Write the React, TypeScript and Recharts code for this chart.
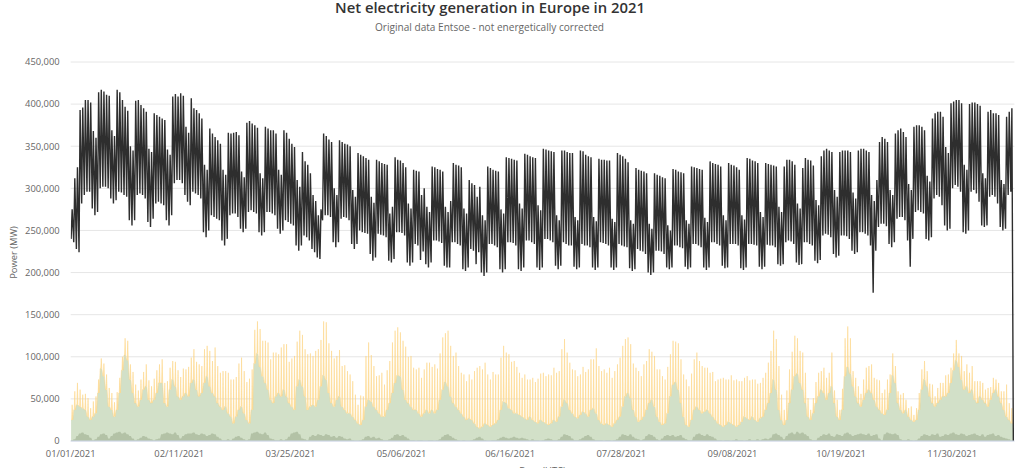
import React from 'react';
import { ComposedChart, Area, Line, XAxis, YAxis, CartesianGrid } from 'recharts';

// Daily total load in GW, Jan 1 (Fri) to Dec 22 2021, rows are Mon..Sun weeks.
// Peak = daytime maximum, low = early-morning minimum.
const loadPeakGW = [
  275, 312, 325,
  393, 396, 405, 405, 402, 368, 360,
  414, 417, 415, 411, 410, 369, 362,
  417, 414, 405, 397, 392, 350, 345,
  404, 405, 399, 395, 391, 347, 343,
  389, 387, 385, 383, 381, 346, 340,
  409, 412, 409, 413, 410, 373, 366,
  407, 395, 393, 389, 383, 328, 322,
  371, 365, 361, 357, 353, 322, 316,
  366, 365, 366, 367, 363, 320, 313,
  378, 380, 377, 375, 372, 318, 312,
  373, 371, 369, 369, 365, 322, 316,
  369, 366, 359, 353, 349, 310, 302,
  343, 332, 328, 318, 292, 285, 268,
  275, 365, 362, 358, 355, 300, 292,
  357, 355, 353, 352, 350, 298, 290,
  342, 340, 338, 336, 334, 290, 283,
  334, 332, 330, 329, 328, 270, 278,
  337, 334, 333, 330, 325, 282, 276,
  322, 321, 320, 292, 300, 278, 272,
  326, 325, 323, 322, 320, 278, 272,
  285, 330, 328, 327, 325, 276, 270,
  310, 306, 304, 290, 302, 268, 262,
  326, 324, 322, 321, 320, 275, 270,
  337, 336, 335, 334, 333, 282, 276,
  341, 340, 338, 337, 336, 280, 274,
  347, 346, 345, 344, 343, 268, 262,
  345, 345, 343, 342, 342, 266, 262,
  345, 344, 340, 338, 337, 266, 261,
  335, 334, 334, 333, 333, 264, 260,
  342, 340, 338, 335, 331, 262, 258,
  324, 322, 321, 320, 318, 258, 252,
  318, 316, 315, 313, 312, 256, 250,
  323, 322, 320, 319, 318, 262, 258,
  326, 325, 324, 323, 322, 265, 260,
  332, 330, 329, 328, 326, 268, 262,
  330, 328, 327, 325, 322, 268, 263,
  336, 335, 333, 332, 330, 272, 266,
  330, 329, 328, 327, 326, 278, 272,
  326, 334, 334, 332, 328, 282, 276,
  324, 336, 334, 333, 327, 286, 280,
  338, 345, 347, 345, 343, 298, 290,
  343, 345, 345, 345, 343, 295, 288,
  345, 347, 347, 345, 343, 292, 285,
  310, 355, 361, 359, 355, 298, 292,
  365, 369, 371, 367, 361, 305, 298,
  373, 375, 375, 373, 369, 315, 308,
  383, 389, 391, 391, 385, 349, 342,
  401, 403, 405, 405, 401, 328, 322,
  400, 402, 402, 400, 398, 318, 312,
  391, 393, 389, 389, 387, 310, 305,
  385, 391, 395,
];

const loadLowGW = [
  240, 236, 228,
  224, 282, 292, 296, 296, 276, 268,
  272, 300, 302, 302, 300, 288, 282,
  286, 296, 295, 292, 290, 262, 256,
  262, 292, 294, 292, 288, 260, 254,
  264, 282, 284, 282, 280, 262, 256,
  268, 306, 310, 310, 306, 292, 284,
  280, 296, 294, 292, 288, 248, 242,
  250, 268, 266, 264, 262, 238, 232,
  240, 268, 270, 270, 266, 252, 248,
  252, 272, 274, 272, 270, 248, 244,
  248, 272, 272, 270, 268, 252, 246,
  250, 262, 260, 258, 256, 232, 226,
  232, 244, 242, 238, 228, 224, 218,
  216, 262, 268, 268, 266, 236, 230,
  236, 264, 266, 265, 262, 234, 228,
  234, 250, 248, 247, 246, 222, 214,
  218, 246, 245, 244, 242, 214, 212,
  216, 248, 248, 247, 244, 212, 208,
  212, 234, 232, 215, 225, 210, 206,
  212, 238, 238, 237, 235, 208, 206,
  206, 236, 236, 234, 232, 204, 202,
  206, 228, 226, 210, 224, 200, 196,
  200, 234, 234, 232, 230, 204, 200,
  204, 236, 236, 235, 232, 204, 202,
  206, 238, 238, 236, 234, 206, 203,
  206, 240, 240, 238, 236, 208, 204,
  208, 236, 234, 232, 232, 207, 204,
  206, 234, 232, 232, 230, 206, 203,
  206, 236, 235, 234, 232, 206, 203,
  206, 234, 232, 231, 230, 205, 202,
  204, 228, 226, 225, 222, 200, 197,
  200, 226, 226, 225, 222, 206, 204,
  206, 232, 232, 230, 229, 207, 204,
  206, 234, 234, 232, 230, 206, 203,
  206, 236, 236, 234, 232, 208, 205,
  206, 234, 234, 234, 232, 205, 203,
  206, 234, 234, 233, 232, 207, 204,
  207, 233, 232, 232, 230, 210, 208,
  210, 236, 238, 237, 234, 212, 209,
  210, 236, 236, 234, 232, 214, 211,
  215, 244, 246, 245, 242, 222, 218,
  220, 244, 244, 243, 240, 226, 222,
  224, 248, 248, 246, 244, 232, 176,
  226, 254, 258, 258, 255, 234, 230,
  236, 264, 266, 266, 262, 238, 207,
  240, 272, 274, 272, 270, 240, 238,
  242, 288, 292, 290, 280, 256, 250,
  252, 300, 304, 302, 296, 248, 246,
  250, 296, 298, 294, 284, 256, 254,
  256, 290, 292, 290, 282, 254, 250,
  252, 292, 296,
];

// Reading after the last complete hour of the export
const closingLoadGW = 0;

// Wind generation (daily level, GW), ten days per row
const windGW = [
  25, 37, 43, 41, 39, 37, 29, 25, 29, 33,
  57, 86, 77, 61, 41, 37, 29, 37, 57, 84,
  102, 96, 73, 57, 45, 41, 49, 61, 65, 49,
  45, 49, 57, 69, 69, 45, 41, 61, 73, 65,
  53, 49, 53, 57, 53, 69, 73, 61, 53, 57,
  69, 77, 65, 57, 53, 45, 41, 37, 41, 33,
  29, 21, 29, 37, 41, 33, 25, 21, 37, 92,
  104, 88, 77, 69, 61, 49, 45, 53, 57, 53,
  61, 53, 45, 41, 37, 65, 73, 65, 53, 37,
  41, 43, 41, 49, 65, 78, 73, 57, 45, 41,
  49, 53, 41, 37, 33, 33, 29, 25, 21, 19,
  25, 41, 49, 47, 41, 37, 33, 29, 29, 37,
  45, 57, 69, 78, 77, 61, 49, 45, 41, 37,
  37, 33, 29, 33, 37, 33, 37, 33, 37, 49,
  61, 70, 65, 53, 45, 41, 37, 33, 29, 25,
  27, 25, 21, 17, 15, 17, 21, 19, 17, 19,
  21, 25, 37, 47, 45, 39, 37, 33, 33, 31,
  29, 27, 25, 29, 25, 23, 21, 25, 23, 21,
  19, 21, 25, 23, 29, 41, 49, 45, 37, 33,
  29, 27, 31, 35, 33, 29, 37, 39, 33, 25,
  21, 19, 21, 19, 17, 21, 25, 29, 41, 53,
  57, 51, 37, 29, 23, 25, 29, 37, 45, 49,
  41, 29, 23, 19, 21, 33, 53, 67, 70, 61,
  45, 29, 19, 17, 25, 37, 41, 37, 33, 35,
  37, 33, 29, 25, 21, 19, 17, 19, 23, 21,
  19, 17, 19, 23, 29, 27, 25, 29, 25, 23,
  27, 29, 37, 45, 57, 73, 61, 37, 25, 19,
  25, 45, 61, 77, 80, 69, 61, 45, 29, 25,
  33, 45, 53, 61, 57, 49, 57, 65, 45, 29,
  25, 37, 77, 88, 80, 65, 53, 45, 41, 49,
  57, 61, 57, 49, 41, 37, 33, 31, 37, 57,
  78, 69, 45, 37, 33, 37, 29, 25, 23, 25,
  37, 61, 73, 65, 53, 45, 41, 45, 49, 53,
  53, 57, 69, 84, 96, 88, 73, 61, 65, 57,
  61, 49, 45, 53, 49, 45, 41, 49, 57, 61,
  53, 45, 37, 29, 25, 21,
];

// Solar generation, daily midday peak (GW)
const solarPeakGW = [
  18, 22, 26, 20, 16, 19, 22, 14, 18, 20,
  16, 12, 15, 18, 22, 20, 17, 21, 18, 16,
  20, 23, 18, 25, 22, 19, 24, 21, 26, 23,
  20, 25, 27, 22, 28, 24, 30, 26, 22, 29,
  31, 27, 33, 28, 35, 30, 36, 33, 38, 32,
  40, 36, 42, 38, 58, 44, 40, 46, 42, 48,
  44, 52, 47, 55, 58, 50, 45, 53, 48, 40,
  38, 45, 42, 50, 56, 48, 60, 52, 46, 58,
  54, 62, 49, 57, 64, 53, 58, 61, 56, 66,
  63, 58, 66, 60, 55, 64, 68, 59, 62, 57,
  52, 55, 48, 53, 50, 46, 42, 30, 22, 35,
  28, 60, 68, 55, 48, 40, 45, 52, 38, 47,
  50, 60, 62, 57, 52, 58, 63, 55, 60, 50,
  48, 54, 46, 52, 56, 60, 51, 58, 49, 55,
  62, 58, 66, 60, 56, 64, 52, 48, 50, 46,
  52, 48, 62, 70, 74, 68, 72, 60, 56, 63,
  58, 54, 62, 66, 60, 64, 57, 62, 55, 50,
  46, 52, 48, 44, 50, 47, 53, 55, 58, 56,
  60, 57, 62, 58, 54, 68, 72, 60, 56, 52,
  55, 50, 48, 53, 49, 56, 60, 58, 77, 64,
  62, 66, 60, 68, 58, 62, 66, 70, 72, 68,
  66, 64, 55, 58, 60, 52, 62, 58, 64, 57,
  60, 56, 62, 58, 52, 55, 50, 52, 48, 55,
  52, 50, 54, 48, 55, 60, 64, 58, 56, 52,
  50, 48, 53, 46, 52, 55, 58, 54, 50, 57,
  53, 56, 52, 48, 46, 50, 47, 44, 48, 45,
  42, 46, 44, 48, 50, 58, 60, 52, 30, 18,
  35, 40, 45, 48, 42, 38, 44, 36, 22, 12,
  18, 25, 28, 22, 30, 26, 24, 40, 15, 20,
  12, 25, 45, 48, 42, 18, 22, 20, 15, 24,
  30, 28, 34, 26, 32, 35, 24, 30, 36, 22,
  26, 20, 14, 18, 24, 12, 10, 16, 8, 14,
  20, 24, 22, 18, 15, 22, 12, 18, 20, 16,
  25, 22, 18, 20, 24, 16, 28, 22, 26, 24,
  28, 22, 26, 18, 20, 16, 22, 15, 18, 12,
  16, 14, 22, 38, 20, 18,
];

// Other renewables at the base of the stack (daily level, GW)
const otherGW = [
  1, 2, 6, 9, 10, 8, 7, 4, 1, 2,
  5, 8, 9, 7, 3, 6, 9, 10, 11, 9,
  10, 8, 6, 3, 1, 2, 4, 6, 5, 3,
  2, 1, 2, 3, 8, 9, 10, 9, 8, 10,
  7, 3, 6, 8, 9, 9, 10, 8, 7, 9,
  8, 6, 7, 9, 8, 5, 3, 1, 1, 2,
  1, 3, 5, 6, 4, 2, 1, 2, 9, 10,
  11, 9, 8, 10, 7, 3, 2, 1, 1, 2,
  1, 2, 5, 9, 10, 11, 8, 3, 2, 1,
  5, 7, 6, 8, 7, 6, 8, 7, 5, 6,
  4, 6, 5, 3, 2, 3, 1, 0.5, 0.5, 1,
  2, 5, 6, 4, 5, 3, 4, 2, 1, 1,
  2, 4, 7, 8, 6, 7, 5, 3, 1, 1,
  0.5, 1, 1, 0.5, 0.5, 1, 1, 0.5, 1, 2,
  5, 7, 8, 6, 4, 2, 1, 0.5, 1, 0.5,
  0.5, 1, 2, 4, 5, 3, 1, 0.5, 0.5, 1,
  1, 2, 4, 5, 4, 3, 4, 5, 4, 3,
  4, 3, 2, 1, 2, 1, 1, 0.5, 1, 2,
  3, 2, 1, 1, 2, 5, 8, 7, 6, 3,
  1, 1, 2, 4, 6, 7, 5, 2, 1, 1,
  1, 0.5, 1, 1, 0.5, 1, 2, 5, 8, 7,
  6, 8, 5, 3, 2, 1, 2, 6, 8, 7,
  5, 2, 1, 3, 6, 7, 6, 7, 5, 6,
  7, 4, 2, 1, 1, 5, 8, 9, 7, 6,
  8, 6, 5, 3, 1, 1, 0.5, 1, 1, 0.5,
  1, 2, 1, 1, 0.5, 1, 2, 1, 1, 2,
  1, 2, 3, 2, 4, 8, 9, 7, 5, 2,
  6, 9, 10, 8, 11, 9, 10, 8, 6, 2,
  1, 1, 4, 6, 8, 7, 9, 6, 5, 8,
  7, 6, 9, 10, 8, 6, 7, 8, 9, 8,
  7, 9, 6, 7, 8, 3, 1, 8, 10, 9,
  8, 9, 7, 2, 1, 1, 2, 1, 0.5, 1,
  3, 6, 8, 7, 6, 8, 7, 9, 5, 6,
  8, 7, 9, 10, 8, 7, 9, 8, 6, 7,
  8, 9, 7, 6, 8, 5, 7, 8, 9, 6,
  7, 5, 4, 3, 2, 1,
];

// Axis ticks: day-of-year and their labels
const tickDays = [0, 41, 83, 125, 166, 208, 250, 291, 333];
const tickLabels = [
  '01/01/2021', '02/11/2021', '03/25/2021', '05/06/2021', '06/16/2021',
  '07/28/2021', '09/08/2021', '10/19/2021', '11/30/2021',
];
const yTicks = [0, 50000, 100000, 150000, 200000, 250000, 300000, 350000, 400000, 450000];

const GW = 1000; // MW per GW

type Row = { t: number; load?: number; wind: number; solar: number; other: number };

// Per day: early-morning minimum, sunrise, midday maximum, sunset.
// The load line only has values at the minimum and the maximum.
const rows: Row[] = [];
loadPeakGW.forEach((peak, d) => {
  const wind = windGW[d] * GW;
  const other = otherGW[d] * GW;
  rows.push({ t: d + 0.15, load: loadLowGW[d] * GW, wind, solar: 0, other });
  rows.push({ t: d + 0.35, wind, solar: 0, other });
  rows.push({ t: d + 0.55, load: peak * GW, wind, solar: solarPeakGW[d] * GW, other });
  rows.push({ t: d + 0.75, wind, solar: 0, other });
});
const lastDay = loadPeakGW.length - 1;
rows.push({
  t: lastDay + 1.1,
  load: closingLoadGW * GW,
  wind: windGW[lastDay] * GW,
  solar: 0,
  other: otherGW[lastDay] * GW,
});

const FONT = '"Open Sans", "DejaVu Sans", sans-serif';
const fmt = (v: number) => v.toLocaleString('en-US');

export default function App() {
  return (
    <div style={{ position: 'absolute', left: 0, top: 0, width: 1024, height: 468, background: '#fff', overflow: 'hidden' }}>
      <ComposedChart
        width={1024}
        height={468}
        data={rows}
        margin={{ top: 62, right: 9.6, bottom: 0, left: 0 }}
      >
        <CartesianGrid horizontal vertical={false} stroke="#e6e6e6" strokeWidth={1} />
        <XAxis
          type="number"
          dataKey="t"
          domain={[0, 356.5]}
          ticks={tickDays}
          interval={0}
          allowDataOverflow
          tickFormatter={(v: number) => tickLabels[tickDays.indexOf(v)] ?? ''}
          tickLine={false}
          tickSize={0}
          tickMargin={9.6}
          axisLine={{ stroke: '#ccd6eb', strokeWidth: 1 }}
          height={27}
          tick={{ fill: '#666666', fontSize: 9.4, fontFamily: FONT }}
        />
        <YAxis
          type="number"
          domain={[0, 450000]}
          ticks={yTicks}
          interval={0}
          width={70.7}
          tickFormatter={fmt}
          axisLine={false}
          tickLine={false}
          tickSize={0}
          tickMargin={11}
          tick={{ fill: '#666666', fontSize: 9.4, fontFamily: FONT }}
        />
        <Area
          type="linear"
          dataKey="wind"
          stackId="gen"
          stroke="none"
          fill="#d2e0c8"
          fillOpacity={1}
          isAnimationActive={false}
          dot={false}
          activeDot={false}
        />
        <Area
          type="linear"
          dataKey="solar"
          stackId="gen"
          stroke="#fdd37f"
          strokeWidth={0.5}
          fill="#ffe3a6"
          fillOpacity={0.9}
          isAnimationActive={false}
          dot={false}
          activeDot={false}
        />
        <Area
          type="linear"
          dataKey="other"
          stroke="none"
          fill="#b3c2a6"
          fillOpacity={1}
          isAnimationActive={false}
          dot={false}
          activeDot={false}
        />
        <Line
          type="linear"
          dataKey="load"
          connectNulls
          stroke="#2e2e2e"
          strokeWidth={1.4}
          dot={false}
          activeDot={false}
          isAnimationActive={false}
        />
      </ComposedChart>
      <svg
        width={1024}
        height={468}
        style={{ position: 'absolute', left: 0, top: 0, pointerEvents: 'none' }}
      >
        <text
          x={335}
          y={12.5}
          fontFamily={FONT}
          fontSize={15}
          fontWeight={600}
          fill="#333333"
          textLength={310}
          lengthAdjust="spacingAndGlyphs"
        >
          Net electricity generation in Europe in 2021
        </text>
        <text
          x={375}
          y={31}
          fontFamily={FONT}
          fontSize={10}
          fill="#666666"
          textLength={229}
          lengthAdjust="spacingAndGlyphs"
        >
          Original data Entsoe - not energetically corrected
        </text>
        <text
          transform="translate(17,252.5) rotate(-90)"
          textAnchor="middle"
          fontFamily={FONT}
          fontSize={9.4}
          fill="#666666"
        >
          Power (MW)
        </text>
        <text
          x={542.5}
          y={474}
          textAnchor="middle"
          fontFamily={FONT}
          fontSize={9.4}
          fill="#666666"
        >
          Date (UTC)
        </text>
      </svg>
    </div>
  );
}
